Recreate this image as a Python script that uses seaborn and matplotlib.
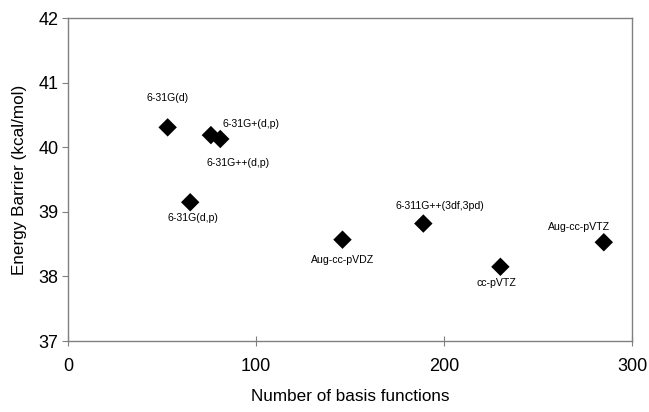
import pandas as pd
import seaborn as sns
import matplotlib.pyplot as plt

# basis sets, basis function counts and energy barriers
basis_sets = ['6-31G(d)', '6-31G(d,p)', '6-31G+(d,p)', '6-31G++(d,p)',
              'Aug-cc-pVDZ', '6-311G++(3df,3pd)', 'cc-pVTZ', 'Aug-cc-pVTZ']
n_functions = [53, 65, 76, 81, 146, 189, 230, 285]
barrier = [40.31, 39.15, 40.19, 40.13, 38.57, 38.82, 38.15, 38.53]

# where each label sits relative to its point (pixels)
label_offsets = [(0, 29), (3, -16), (40, 11), (18, -24),
                 (0, -20), (17, 18), (-4, -16), (-25, 15)]

df = pd.DataFrame({'basis': basis_sets, 'n': n_functions, 'E': barrier})

sns.set_style('white')
plt.rcParams['font.family'] = ['Liberation Sans', 'DejaVu Sans']
plt.rcParams['text.color'] = 'black'
plt.rcParams['axes.labelcolor'] = 'black'
plt.rcParams['xtick.color'] = 'black'
plt.rcParams['ytick.color'] = 'black'

fig = plt.figure(figsize=(6.49, 4.12), dpi=100)
ax = fig.add_axes([0.1048, 0.1723, 0.8690, 0.7833])

sns.scatterplot(data=df, x='n', y='E', marker='D', color='black', s=88,
                edgecolor='none', ax=ax, zorder=3)

for name, x, y, (dx, dy) in zip(basis_sets, n_functions, barrier, label_offsets):
    ax.annotate(name, (x, y), xytext=(dx, dy), textcoords='offset pixels',
                ha='center', va='center', fontsize=7.6, color='black')

ax.set_xlim(0, 300)
ax.set_ylim(37, 42)
ax.set_xticks([0, 100, 200, 300])
ax.set_yticks([37, 38, 39, 40, 41, 42])

for s in ax.spines.values():
    s.set_color('#808080')
    s.set_linewidth(1)

ax.tick_params(axis='y', direction='out', length=4, color='#808080',
               labelsize=13, pad=3, left=True)
ax.tick_params(axis='x', direction='inout', length=7, color='#808080',
               labelsize=13, pad=9, bottom=True)

ax.set_xlabel('Number of basis functions', fontsize=12.3, labelpad=10)
ax.set_ylabel('Energy Barrier (kcal/mol)', fontsize=12.3, labelpad=8)

fig.savefig('out.png', dpi=100)
